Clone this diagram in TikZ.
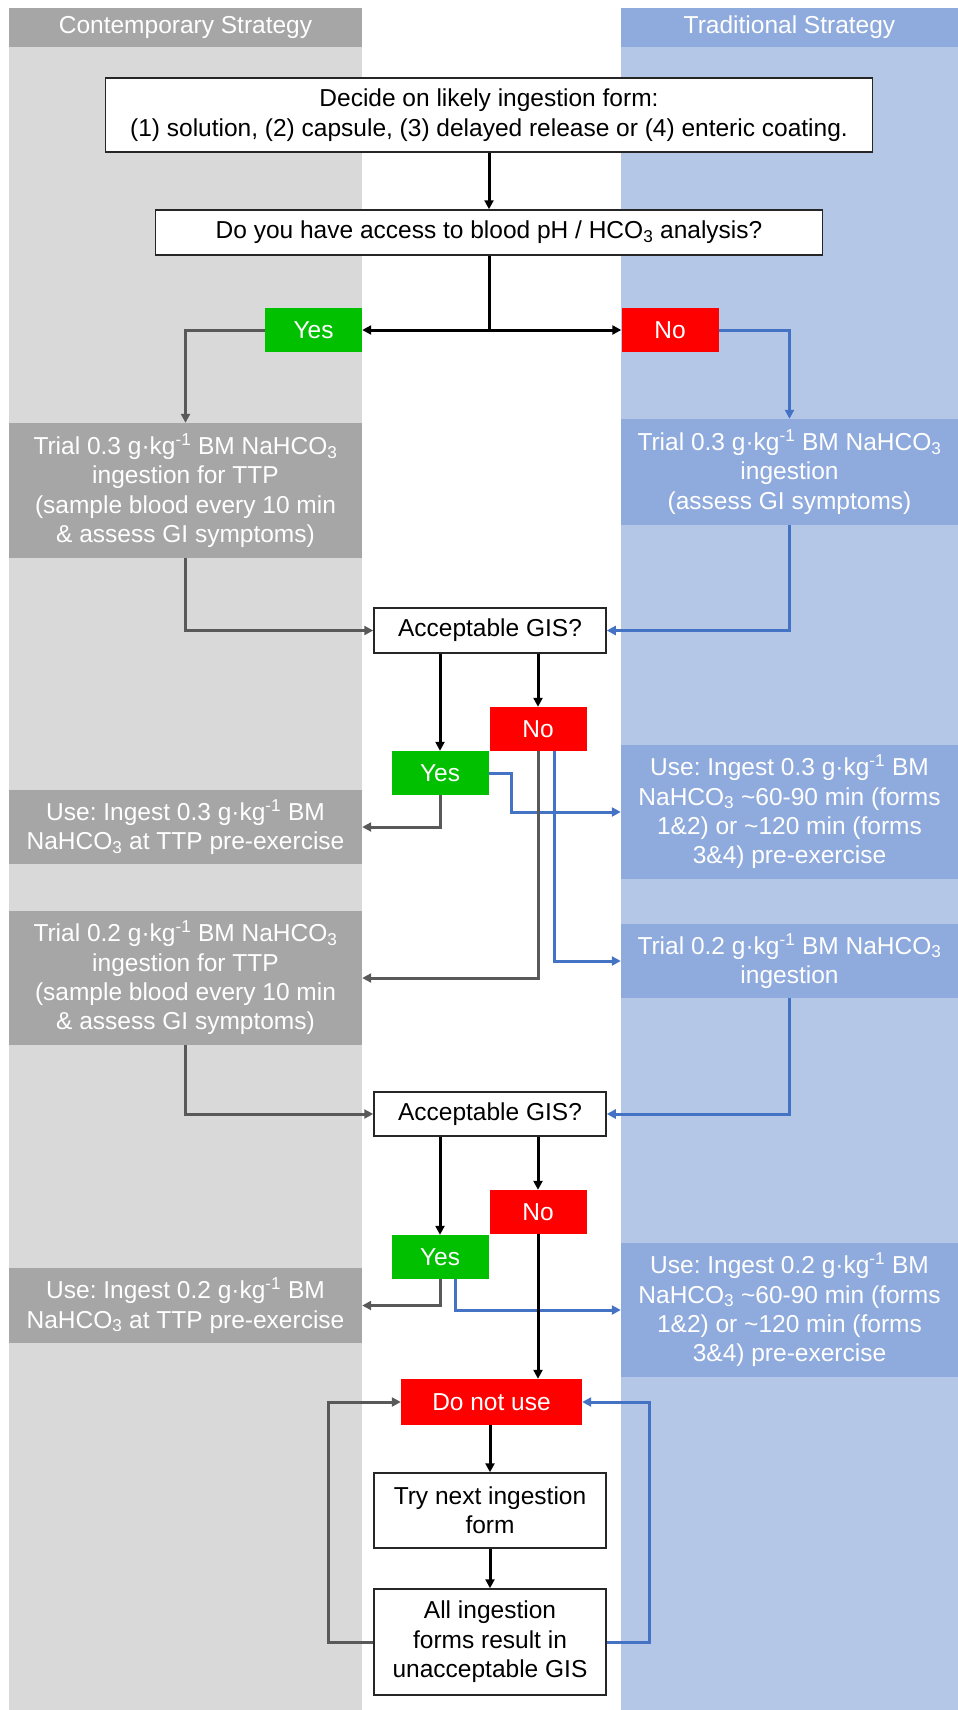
\documentclass[tikz,border=0pt]{standalone}
\usepackage{fontspec}
\setmainfont{Liberation Sans}
\usetikzlibrary{arrows.meta}
\frenchspacing

\definecolor{colgrey}{HTML}{D9D9D9}
\definecolor{boxgrey}{HTML}{A6A6A6}
\definecolor{colblue}{HTML}{B4C7E7}
\definecolor{boxblue}{HTML}{8FAADC}
\definecolor{lineblue}{HTML}{4472C4}
\definecolor{linegrey}{HTML}{595959}
\definecolor{yesgreen}{HTML}{00C000}
\definecolor{nored}{HTML}{FF0000}

\tikzset{
	every node/.style = {font=\fontsize{24.5}{29.4}\selectfont, inner sep=0pt, align=center},
	wh/.style 2 args = {minimum width=#1pt, minimum height=#2pt},
	whitebox/.style = {draw=black!85, line width=1.5pt, fill=white},
	greybox/.style = {fill=boxgrey, text=white},
	bluebox/.style = {fill=boxblue, text=white},
	yesbox/.style = {fill=yesgreen, text=white, wh={97}{44}},
	nobox/.style = {fill=nored, text=white, wh={97}{44}},
	flow/.style = {line width=3pt, -{Triangle[length=9pt,width=9pt]}},
	greyflow/.style = {flow, draw=linegrey},
	blueflow/.style = {flow, draw=lineblue}
}

\begin{document}
\begin{tikzpicture}[x=1pt, y=-1pt]
		
		\useasboundingbox (0,0) rectangle (958,1710);
		
		% strategy columns
		\fill[colgrey] (9,8) rectangle (362,1710);
		\fill[colblue] (621,8) rectangle (958,1710);
		\node[greybox, wh={353}{39}] (hdrL) at (185.5,27.5) {Contemporary Strategy};
		\node[bluebox, wh={337}{39}] (hdrR) at (789.5,27.5) {Traditional Strategy};
		
		% start
		\node[whitebox, wh={767}{74}] (start) at (489,115) {Decide on likely ingestion form:\\(1) solution, (2) capsule, (3) delayed release or (4) enteric coating.};
		\node[whitebox, wh={667}{45}] (access) at (489,232.5) {Do you have access to blood pH / HCO\textsubscript{3} analysis?};
		\node[yesbox] (yes1) at (313.5,330) {Yes};
		\node[nobox] (no1) at (670,330) {No};
		
		% first trial, 0.3
		\node[greybox, wh={353}{135}] (trialL1) at (185.5,490.5) {Trial 0.3 g·kg\textsuperscript{-1} BM NaHCO\textsubscript{3}\\ingestion for TTP\\(sample blood every 10 min\\\& assess GI symptoms)};
		\node[bluebox, wh={337}{106}] (trialR1) at (789.5,472) {Trial 0.3 g·kg\textsuperscript{-1} BM NaHCO\textsubscript{3}\\ingestion\\(assess GI symptoms)};
		\node[whitebox, wh={232}{45}] (gis1) at (490,630.5) {Acceptable GIS?};
		\node[nobox] (no2) at (538,729) {No};
		\node[yesbox] (yes2) at (440,773) {Yes};
		\node[greybox, wh={353}{74}] (useL1) at (185.5,827) {Use: Ingest 0.3 g·kg\textsuperscript{-1} BM\\NaHCO\textsubscript{3} at TTP pre-exercise};
		\node[bluebox, wh={337}{134}] (useR1) at (789.5,812) {Use: Ingest 0.3 g·kg\textsuperscript{-1} BM\\NaHCO\textsubscript{3} \textasciitilde60-90 min (forms\\1\&2) or \textasciitilde120 min (forms\\3\&4) pre-exercise};
		
		% second trial, 0.2
		\node[greybox, wh={353}{134}] (trialL2) at (185.5,978) {Trial 0.2 g·kg\textsuperscript{-1} BM NaHCO\textsubscript{3}\\ingestion for TTP\\(sample blood every 10 min\\\& assess GI symptoms)};
		\node[bluebox, wh={337}{74}] (trialR2) at (789.5,961) {Trial 0.2 g·kg\textsuperscript{-1} BM NaHCO\textsubscript{3}\\ingestion};
		\node[whitebox, wh={232}{44}] (gis2) at (490,1114) {Acceptable GIS?};
		\node[nobox] (no3) at (538,1212) {No};
		\node[yesbox] (yes3) at (440,1257) {Yes};
		\node[greybox, wh={353}{75}] (useL2) at (185.5,1305.5) {Use: Ingest 0.2 g·kg\textsuperscript{-1} BM\\NaHCO\textsubscript{3} at TTP pre-exercise};
		\node[bluebox, wh={337}{134}] (useR2) at (789.5,1310) {Use: Ingest 0.2 g·kg\textsuperscript{-1} BM\\NaHCO\textsubscript{3} \textasciitilde60-90 min (forms\\1\&2) or \textasciitilde120 min (forms\\3\&4) pre-exercise};
		
		% end
		\node[nobox, wh={181}{46}] (donot) at (491.5,1402) {Do not use};
		\node[whitebox, wh={232}{75}] (try) at (490,1510.5) {Try next ingestion\\form};
		\node[whitebox, wh={232}{106}] (all) at (490,1642) {All ingestion\\forms result in\\unacceptable GIS};
		
		% connectors
		\draw[flow] (start) -- (access);
		\draw[line width=3pt] (access.south) -- (access.south |- yes1.east) coordinate (split);
		\draw[flow] (split) -- (yes1.east);
		\draw[flow] (split) -- (no1.west);
		\draw[greyflow] (yes1.west) -| (trialL1.north);
		\draw[blueflow] (no1.east) -| (trialR1.north);
		\draw[greyflow] (trialL1.south) |- (gis1.west);
		\draw[blueflow] (trialR1.south) |- (gis1.east);
		
		\draw[flow] (gis1.south -| yes2.north) -- (yes2.north);
		\draw[flow] (gis1.south -| no2.north) -- (no2.north);
		\draw[greyflow] (yes2.south) |- (useL1.east);
		\draw[blueflow] (yes2.east) -- ++(23,0) |- (useR1.west);
		\draw[greyflow] (no2.south) |- (trialL2.east);
		\draw[blueflow] ([xshift=16pt]no2.south) |- (trialR2.west);
		\draw[greyflow] (trialL2.south) |- (gis2.west);
		\draw[blueflow] (trialR2.south) |- (gis2.east);
		
		\draw[flow] (gis2.south -| yes3.north) -- (yes3.north);
		\draw[flow] (gis2.south -| no3.north) -- (no3.north);
		\draw[greyflow] (yes3.south) |- (useL2.east);
		\draw[blueflow] ([xshift=15pt]yes3.south) |- (useR2.west);
		\draw[flow] (no3.south) -- (no3.south |- donot.north);
		
		\draw[flow] (donot.south -| try.north) -- (try.north);
		\draw[flow] (try) -- (all);
		\draw[greyflow] (all.west) -- ++(-45,0) |- (donot.west);
		\draw[blueflow] (all.east) -- ++(43,0) |- (donot.east);
	
	\end{tikzpicture}
\end{document}
